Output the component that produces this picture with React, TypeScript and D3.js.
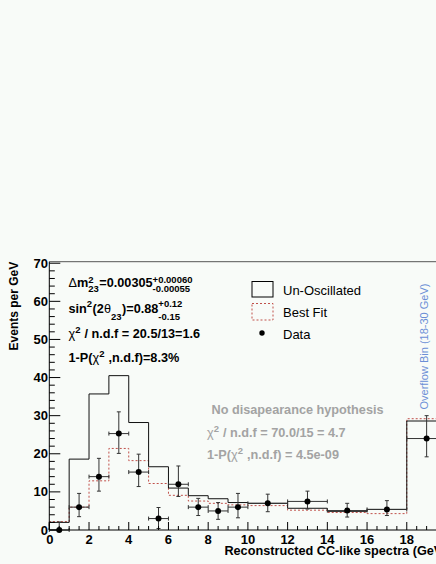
import React from 'react';
import * as d3 from 'd3';

// bin edges (GeV), last bin is the overflow 18-30 drawn as 18-20
const edges = [0, 1, 2, 3, 4, 5, 6, 7, 8, 9, 10, 12, 14, 16, 18, 20];
const unOscillated = [2, 18.6, 35.7, 40.5, 28.2, 16.6, 11, 9, 8.2, 7.2, 7.0, 5.7, 4.9, 5.4, 28.6];
const bestFit = [2.2, 6, 12.9, 21.4, 18.2, 12.2, 9.1, 7.6, 7.0, 6.6, 6.4, 5.2, 4.6, 4.3, 29.2];

const dataX = [0.5, 1.5, 2.5, 3.5, 4.5, 5.5, 6.5, 7.5, 8.5, 9.5, 11, 13, 15, 17, 19];
const dataY = [0, 6, 14, 25.3, 15.2, 3, 12, 6, 5, 6, 7, 7.5, 5.1, 5.4, 24];
const dataLow = [0, 3.5, 10.2, 20.1, 11.4, 0.4, 8.8, 3.8, 2.8, 3.2, 4.8, 5.5, 3.4, 3.8, 19.2];
const dataHigh = [2.1, 9.6, 18.8, 31, 19.9, 5.9, 16.8, 8.3, 7.2, 9.6, 9.4, 10.2, 7.0, 7.7, 30];

const yMajor = d3.range(0, 71, 10);
const yMinor = d3.range(0, 71, 2);
const xMajor = d3.range(0, 21, 2);
const xMinor = d3.range(0, 20.01, 0.5);

const FONT = '"Liberation Sans", Arial, sans-serif';
const W = 436, H = 564;

const ctx = typeof document !== 'undefined' ? document.createElement('canvas').getContext('2d') : null;
function tw(t: string, size: number, weight: number) {
    if (!ctx) return t.length * size * 0.55;
    ctx.font = `${weight} ${size}px "Liberation Sans"`;
    return ctx.measureText(t).width;
}

type Item = { t?: string; w?: number; sup?: string; sub?: string };

function RichLine({ items, x0, y0, size, fill, supDy, subDy, script }:
    { items: Item[]; x0: number; y0: number; size: number; fill: string; supDy: number; subDy: number; script: number }) {
    let cx = x0;
    const spans: any[] = [];
    items.forEach((it, i) => {
        if (it.t !== undefined) {
            const wt = it.w ?? 700;
            spans.push(<tspan key={i} x={cx} y={y0} fontWeight={wt}>{it.t}</tspan>);
            cx += tw(it.t, size, wt);
        } else {
            let adv = 0;
            if (it.sup) {
                spans.push(<tspan key={i + 'p'} x={cx} y={y0 + supDy} fontSize={script}>{it.sup}</tspan>);
                adv = Math.max(adv, tw(it.sup, script, 700));
            }
            if (it.sub) {
                spans.push(<tspan key={i + 'b'} x={cx} y={y0 + subDy} fontSize={script}>{it.sub}</tspan>);
                adv = Math.max(adv, tw(it.sub, script, 700));
            }
            cx += adv + 0.5;
        }
    });
    return <text fontFamily={FONT} fontSize={size} fontWeight={700} fill={fill}>{spans}</text>;
}

export default function App() {
    const x = d3.scaleLinear().domain([0, 20]).range([49.3, 446.5]);
    const y = d3.scaleLinear().domain([0, 70.4]).range([530, 261.7]);

    const steps = (vals: number[]) => {
        const pts: [number, number][] = [[0, 0]];
        vals.forEach((v, i) => { pts.push([edges[i], v], [edges[i + 1], v]); });
        pts.push([20, 0]);
        return d3.line<[number, number]>().x(d => x(d[0])).y(d => y(d[1]))(pts) as string;
    };

    const bg = '#f8fbf8';
    const sz = 12.7;

    return (
        <svg width={W} height={H} style={{ position: 'absolute', left: 0, top: 0 }}>
            <rect width={W} height={H} fill={bg} />

            {/* histograms */}
            <path d={steps(bestFit)} fill="none" stroke="#c0504a" strokeWidth={1} strokeDasharray="2,2" />
            <path d={steps(unOscillated)} fill="none" stroke="#111" strokeWidth={1} />

            {/* data points */}
            {dataX.map((dx, i) => {
                const px = x(dx), py = y(dataY[i]);
                const x0 = x(edges[i]), x1 = x(edges[i + 1]);
                const yl = y(dataLow[i]), yh = y(dataHigh[i]);
                return (
                    <g key={i} stroke="#333" strokeWidth={1}>
                        <line x1={x0} x2={x1} y1={py} y2={py} />
                        <line x1={x0} x2={x0} y1={py - 2} y2={py + 2} />
                        <line x1={x1} x2={x1} y1={py - 2} y2={py + 2} />
                        <line x1={px} x2={px} y1={yl} y2={yh} />
                        <line x1={px - 2} x2={px + 2} y1={yh} y2={yh} />
                        <line x1={px - 2} x2={px + 2} y1={yl} y2={yl} />
                        <circle cx={px} cy={py} r={3} fill="#000" stroke="none" />
                    </g>
                );
            })}

            {/* frame / axes */}
            <line x1={x(0)} x2={x(20)} y1={y(70.4)} y2={y(70.4)} stroke="#555" strokeWidth={1} />
            <line x1={x(0)} x2={x(0)} y1={y(0)} y2={y(70.4)} stroke="#000" strokeWidth={1} />
            <line x1={x(0)} x2={x(20)} y1={y(0)} y2={y(0)} stroke="#000" strokeWidth={1} />
            {yMinor.map(v => (
                <line key={'ym' + v} x1={x(0)} x2={x(0) + (v % 10 === 0 ? 11 : 5.5)} y1={y(v)} y2={y(v)} stroke="#000" />
            ))}
            {xMinor.map(v => (
                <line key={'xm' + v} x1={x(v)} x2={x(v)} y1={y(0)} y2={y(0) - (v % 2 === 0 ? 8 : 4)} stroke="#000" />
            ))}
            {yMajor.map(v => (
                <text key={'yl' + v} x={48} y={y(v) + 4.6} textAnchor="end" fontFamily={FONT}
                    fontWeight={700} fontSize={13} fill="#000">{v}</text>
            ))}
            {xMajor.map(v => (
                <text key={'xl' + v} x={x(v) + (v === 0 ? 0.5 : 0)} y={543.5} textAnchor="middle" fontFamily={FONT}
                    fontWeight={700} fontSize={13} fill="#000">{v}</text>
            ))}
            <text x={x(20)} y={555} textAnchor="end" fontFamily={FONT} fontWeight={700} fontSize={sz}
                fill="#000">Reconstructed CC-like spectra (GeV)</text>
            <text transform={`translate(18,${y(70.4)}) rotate(-90)`} textAnchor="end" fontFamily={FONT}
                fontWeight={700} fontSize={12} fill="#000">Events per GeV</text>

            {/* fit results */}
            <RichLine x0={68.5} y0={287} size={sz} fill="#000" supDy={-4.5} subDy={4.5} script={9.5}
                items={[{ t: 'Δ', w: 400 }, { t: 'm' }, { sup: '2', sub: '23' }, { t: '=0.00305' },
                    { sup: '+0.00060', sub: '-0.00055' }]} />
            <RichLine x0={68.5} y0={313} size={sz} fill="#000" supDy={-6} subDy={6.5} script={9.5}
                items={[{ t: 'sin' }, { sup: '2' }, { t: '(2' }, { t: 'θ', w: 400 }, { sub: '23' }, { t: ')=0.88' },
                    { sup: '+0.12', sub: '-0.15' }]} />
            <RichLine x0={68.5} y0={338} size={sz} fill="#000" supDy={-5} subDy={4} script={9.5}
                items={[{ t: 'χ', w: 400 }, { sup: '2' }, { t: ' / n.d.f = 20.5/13=1.6' }]} />
            <RichLine x0={68.5} y0={362} size={sz} fill="#000" supDy={-5} subDy={4} script={9.5}
                items={[{ t: '1-P(' }, { t: 'χ', w: 400 }, { sup: '2' }, { t: ' ,n.d.f)=8.3%' }]} />

            {/* no disappearance */}
            <text x={211.5} y={414} fontFamily={FONT} fontWeight={700} fontSize={sz} fill="#a3a3a3">No disapearance hypothesis</text>
            <RichLine x0={207} y0={437} size={sz} fill="#a3a3a3" supDy={-5} subDy={4} script={9.5}
                items={[{ t: 'χ', w: 400 }, { sup: '2' }, { t: ' / n.d.f = 70.0/15 = 4.7' }]} />
            <RichLine x0={207} y0={459} size={sz} fill="#a3a3a3" supDy={-5} subDy={4} script={9.5}
                items={[{ t: '1-P(' }, { t: 'χ', w: 400 }, { sup: '2' }, { t: ' ,n.d.f) = 4.5e-09' }]} />

            {/* legend */}
            <rect x={252} y={281.5} width={21} height={15.5} fill="none" stroke="#000" />
            <text x={283} y={295} fontFamily={FONT} fontSize={13} fill="#000">Un-Oscillated</text>
            <rect x={252} y={303.5} width={21} height={16.5} fill="none" stroke="#c0504a" strokeDasharray="2,2" />
            <text x={283} y={317} fontFamily={FONT} fontSize={13} fill="#000">Best Fit</text>
            <circle cx={262} cy={333} r={2.7} fill="#000" />
            <text x={283} y={339} fontFamily={FONT} fontSize={13} fill="#000">Data</text>

            <text transform="translate(428,346.5) rotate(-90)" textAnchor="middle" fontFamily={FONT}
                fontSize={11} fill="#6b8ed6">Overflow Bin (18-30 GeV)</text>
        </svg>
    );
}
